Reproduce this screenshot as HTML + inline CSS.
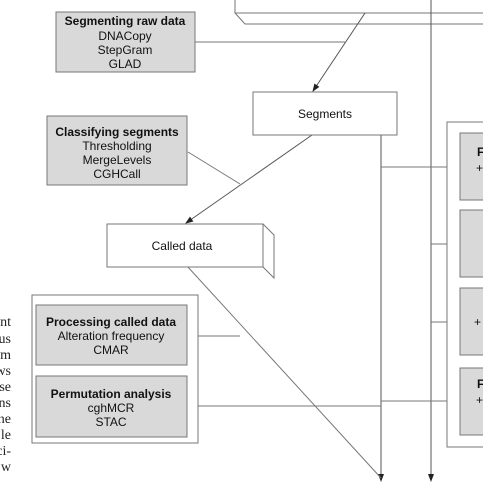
<!DOCTYPE html>
<html><head><style>
html,body{margin:0;padding:0;background:#fff;}
body{width:483px;height:483px;overflow:hidden;position:relative;font-family:"Liberation Sans",sans-serif;}
svg{position:absolute;left:0;top:0}
.t{font-family:"Liberation Sans",sans-serif;font-size:12px;fill:#111;text-anchor:middle}
.b{font-weight:bold}
.s{font-family:"Liberation Serif",serif;font-size:14px;fill:#222;text-anchor:end}
</style></head><body>
<svg width="483" height="483" viewBox="0 0 483 483">
<defs><marker id="a" markerWidth="8" markerHeight="8" refX="7" refY="4" orient="auto" markerUnits="userSpaceOnUse"><path d="M0,1 L8,4 L0,7 z" fill="#222"/></marker></defs>
<g stroke="#777" stroke-width="1" fill="none">
<path d="M235,0 V13 H483 M235,13 L245,24 H483"/>
<line x1="195" y1="42" x2="345" y2="42"/>
<line x1="365" y1="13" x2="313" y2="91" stroke="#555" marker-end="url(#a)"/>
<line x1="188" y1="152" x2="240" y2="184"/>
<line x1="312" y1="135" x2="186" y2="223" stroke="#555" marker-end="url(#a)"/>
<line x1="381" y1="135" x2="381" y2="481" stroke="#555" marker-end="url(#a)"/>
<line x1="431" y1="0" x2="431" y2="481" stroke="#555" marker-end="url(#a)"/>
<line x1="187" y1="266" x2="381" y2="478"/>
<line x1="381" y1="167" x2="460" y2="167"/>
<line x1="431" y1="244" x2="460" y2="244"/>
<line x1="431" y1="322" x2="460" y2="322"/>
<line x1="381" y1="401" x2="460" y2="401"/>
<line x1="187" y1="336" x2="240" y2="336"/>
<line x1="187" y1="406" x2="381" y2="406"/>
<rect x="56" y="12" width="139" height="60" fill="#d9d9d9"/>
<rect x="253" y="92" width="144" height="43" fill="#fff"/>
<rect x="47" y="116" width="140" height="69" fill="#d9d9d9"/>
<path d="M107,224 H263 V267 H107 Z M263,224 L274,235 V278 L263,267" fill="#fff"/>
<rect x="32" y="295" width="166" height="148" fill="#fff"/>
<rect x="36" y="305" width="151" height="60" fill="#d9d9d9"/>
<rect x="36" y="376" width="151" height="61" fill="#d9d9d9"/>
<rect x="447" y="122" width="40" height="325" fill="#fff"/>
<rect x="460" y="133" width="30" height="67" fill="#d9d9d9"/>
<rect x="460" y="210" width="30" height="67" fill="#d9d9d9"/>
<rect x="460" y="288" width="30" height="67" fill="#d9d9d9"/>
<rect x="460" y="368" width="30" height="67" fill="#d9d9d9"/>
</g>
<g>
<text class="t b" x="125" y="25">Segmenting raw data</text>
<text class="t" x="125" y="40">DNACopy</text>
<text class="t" x="125" y="54">StepGram</text>
<text class="t" x="125" y="68">GLAD</text>
<text class="t" x="325" y="118">Segments</text>
<text class="t b" x="117" y="136">Classifying segments</text>
<text class="t" x="117" y="150">Thresholding</text>
<text class="t" x="117" y="164">MergeLevels</text>
<text class="t" x="117" y="178">CGHCall</text>
<text class="t" x="182" y="250">Called data</text>
<text class="t b" x="111" y="326">Processing called data</text>
<text class="t" x="111" y="340">Alteration frequency</text>
<text class="t" x="111" y="354">CMAR</text>
<text class="t b" x="111" y="398">Permutation analysis</text>
<text class="t" x="111" y="412">cghMCR</text>
<text class="t" x="111" y="426">STAC</text>
<text class="t b" x="477" y="156" style="text-anchor:start">F</text>
<text class="t" x="476" y="172" style="text-anchor:start">+</text>
<text class="t" x="474" y="326" style="text-anchor:start">+</text>
<text class="t b" x="477" y="388" style="text-anchor:start">F</text>
<text class="t" x="476" y="404" style="text-anchor:start">+</text>
<text class="s" x="11" y="326">nt</text>
<text class="s" x="11" y="343">us</text>
<text class="s" x="11" y="359">m</text>
<text class="s" x="11" y="375">ws</text>
<text class="s" x="11" y="391">se</text>
<text class="s" x="11" y="407">ns</text>
<text class="s" x="11" y="423">he</text>
<text class="s" x="11" y="439">le</text>
<text class="s" x="11" y="455">ci-</text>
<text class="s" x="11" y="471">w</text>
</g>
</svg>
</body></html>
